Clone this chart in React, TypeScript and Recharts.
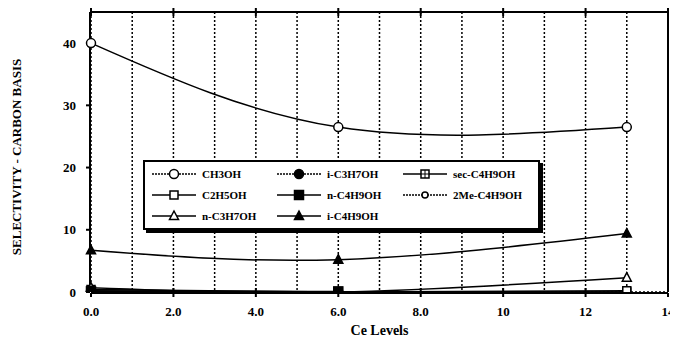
import React from 'react'
import { LineChart, Line, XAxis, YAxis, Legend, CartesianGrid } from 'recharts'

// Ce levels on the x axis
const ceLevels = [0, 6, 13]

// selectivity (carbon basis) for each alcohol
const ch3oh = [40, 26.5, 26.5]
const c2h5oh = [0.4, 0, 0.2]
const nC3h7oh = [0.7, 0, 2.3]
const iC3h7oh = [0.2, 0, null]
const nC4h9oh = [0.1, 0.1, null]
const iC4h9oh = [6.7, 5.2, 9.4]
const secC4h9oh = [0, 0, 0]
const me2C4h9oh = [0, 0, 0]

const xTicks = [0, 2, 4, 6, 8, 10, 12, 14]
const xTickLabels = ['0.0', '2.0', '4.0', '6.0', '8.0', '10', '12', '14']
const yTicks = [0, 10, 20, 30, 40]
const xGrid = [1, 2, 3, 4, 5, 6, 7, 8, 9, 10, 11, 12, 13]
const yGrid = [5, 10, 15, 20, 25, 30, 35, 40]
const yMinor = Array.from({ length: 46 }, (_, i) => i)
const yMid = [0, 5, 10, 15, 20, 25, 30, 35, 40, 45]

const data = ceLevels.map((x, i) => ({
  x,
  ch3oh: ch3oh[i],
  c2h5oh: c2h5oh[i],
  nC3h7oh: nC3h7oh[i],
  iC3h7oh: iC3h7oh[i],
  nC4h9oh: nC4h9oh[i],
  iC4h9oh: iC4h9oh[i],
  secC4h9oh: secC4h9oh[i],
  me2C4h9oh: me2C4h9oh[i],
}))

type Shape = 'oCircle' | 'fCircle' | 'oSquare' | 'fSquare' | 'oTri' | 'fTri' | 'plusSq' | 'smCircle'

const series: { key: string; name: string; shape: Shape; dash?: string }[] = [
  { key: 'ch3oh', name: 'CH3OH', shape: 'oCircle', dash: '2 1' },
  { key: 'iC3h7oh', name: 'i-C3H7OH', shape: 'fCircle', dash: '2 1' },
  { key: 'secC4h9oh', name: 'sec-C4H9OH', shape: 'plusSq' },
  { key: 'c2h5oh', name: 'C2H5OH', shape: 'oSquare' },
  { key: 'nC4h9oh', name: 'n-C4H9OH', shape: 'fSquare' },
  { key: 'me2C4h9oh', name: '2Me-C4H9OH', shape: 'smCircle', dash: '2 1' },
  { key: 'nC3h7oh', name: 'n-C3H7OH', shape: 'oTri' },
  { key: 'iC4h9oh', name: 'i-C4H9OH', shape: 'fTri' },
]

// drawing order so the visible markers end up on top
const drawOrder = ['secC4h9oh', 'me2C4h9oh', 'c2h5oh', 'nC3h7oh', 'iC3h7oh', 'nC4h9oh', 'iC4h9oh', 'ch3oh']

const FONT = "'Liberation Serif', 'Times New Roman', serif"

const marker = (shape: Shape, cx: number, cy: number) => {
  const s = { stroke: '#000', strokeWidth: 1.5 }
  switch (shape) {
    case 'oCircle':
      return <circle cx={cx} cy={cy} r={4.5} fill="#fff" {...s} />
    case 'fCircle':
      return <circle cx={cx} cy={cy} r={4.5} fill="#000" {...s} />
    case 'smCircle':
      return <circle cx={cx} cy={cy} r={3} fill="#fff" {...s} />
    case 'oSquare':
      return <rect x={cx - 4} y={cy - 4} width={8} height={8} fill="#fff" {...s} />
    case 'fSquare':
      return <rect x={cx - 4.5} y={cy - 4.5} width={9} height={9} fill="#000" {...s} />
    case 'plusSq':
      return (
        <g>
          <rect x={cx - 4} y={cy - 4} width={8} height={8} fill="#fff" {...s} />
          <line x1={cx - 4} x2={cx + 4} y1={cy} y2={cy} stroke="#000" strokeWidth={1} />
          <line x1={cx} x2={cx} y1={cy - 4} y2={cy + 4} stroke="#000" strokeWidth={1} />
        </g>
      )
    case 'oTri':
      return <polygon points={`${cx},${cy - 5} ${cx + 4.5},${cy + 3.5} ${cx - 4.5},${cy + 3.5}`} fill="#fff" {...s} />
    case 'fTri':
      return <polygon points={`${cx},${cy - 5} ${cx + 4.5},${cy + 3.5} ${cx - 4.5},${cy + 3.5}`} fill="#000" {...s} />
  }
  return null
}

const renderDot = (shape: Shape) => (props: any) => {
  const { cx, cy, index, value } = props
  const key = `${shape}-${index}`
  if (cx == null || cy == null || value == null) return <g key={key} />
  return <g key={key}>{marker(shape, cx, cy)}</g>
}

// tick mark without a label
const noLabel = () => <g />

const cols = [7, 132, 258]
const rows = [12, 33, 54]

const LegendBox = () => (
  <div
    style={{
      position: 'relative',
      width: 397,
      height: 70,
      boxSizing: 'border-box',
      border: '2px solid #000',
      boxShadow: '3px 3px 0 #000',
      background: '#fff',
      fontFamily: FONT,
      fontWeight: 'bold',
      fontSize: 11,
    }}
  >
    {series.map((s, i) => {
      const left = cols[i % 3]
      const top = rows[Math.floor(i / 3)]
      return (
        <div key={s.key} style={{ position: 'absolute', left, top: top - 7, height: 14, display: 'flex', alignItems: 'center' }}>
          <svg width={44} height={14}>
            <line x1={0} x2={44} y1={7} y2={7} stroke="#000" strokeWidth={1.5} strokeDasharray={s.dash} />
            {marker(s.shape, 22, 7)}
          </svg>
          <span style={{ marginLeft: 6, whiteSpace: 'nowrap' }}>{s.name}</span>
        </div>
      )
    })}
  </div>
)

const tickStyle = { fill: '#000', fontFamily: FONT, fontWeight: 'bold', fontSize: 13 }

export default function App() {
  return (
    <div style={{ background: '#fff' }}>
      <LineChart width={670} height={331} data={data} margin={{ top: 0, right: 10, bottom: 0, left: 0 }}>
        {/* hidden axes that only carry the dotted grid positions */}
        <XAxis xAxisId="grid" hide height={1} dataKey="x" type="number" domain={[0, 14]} ticks={xGrid} />
        <YAxis yAxisId="grid" hide width={1} type="number" domain={[0, 45]} ticks={yGrid} />
        <CartesianGrid xAxisId="grid" yAxisId="grid" stroke="#000" strokeWidth={1.5} strokeDasharray="2 2" />
        <XAxis xAxisId="top" orientation="top" dataKey="x" type="number" domain={[0, 14]} ticks={xTicks} interval={0} height={4} tickSize={4} tick={noLabel} stroke="#000" strokeWidth={2} />
        <XAxis xAxisId="topIn" orientation="top" mirror dataKey="x" type="number" domain={[0, 14]} ticks={xTicks} interval={0} tickSize={4} tick={noLabel} axisLine={false} stroke="#000" strokeWidth={2} />
        <XAxis
          xAxisId="main"
          dataKey="x"
          type="number"
          domain={[0, 14]}
          ticks={xTicks}
          interval={0}
          tickFormatter={(v: number) => xTickLabels[xTicks.indexOf(v)]}
          height={47}
          tickSize={4}
          tickMargin={10}
          stroke="#000"
          strokeWidth={2}
          tick={tickStyle}
          label={{ value: 'Ce Levels', position: 'insideBottom', offset: 5, style: { fill: '#000', fontFamily: FONT, fontWeight: 'bold', fontSize: 14 } }}
        />
        <XAxis xAxisId="botIn" mirror dataKey="x" type="number" domain={[0, 14]} ticks={xTicks} interval={0} tickSize={4} tick={noLabel} axisLine={false} stroke="#000" strokeWidth={2} />
        <YAxis
          yAxisId="main"
          type="number"
          domain={[0, 45]}
          allowDataOverflow
          ticks={yTicks}
          interval={0}
          width={83}
          tickSize={4}
          tickMargin={10}
          stroke="#000"
          strokeWidth={2}
          tick={tickStyle}
          label={{
            content: () => (
              <text x={8} y={149} transform="rotate(-90 8 149)" textAnchor="middle" dominantBaseline="central" fill="#000" fontFamily={FONT} fontWeight="bold" fontSize={13}>
                SELECTIVITY - CARBON BASIS
              </text>
            ),
          }}
        />
        <YAxis yAxisId="leftIn" mirror type="number" domain={[0, 45]} ticks={yMinor} interval={0} tickSize={4} tick={noLabel} axisLine={false} stroke="#000" strokeWidth={1} />
        <YAxis yAxisId="rightIn" orientation="right" mirror type="number" domain={[0, 45]} ticks={yMinor} interval={0} tickSize={4} tick={noLabel} stroke="#000" strokeWidth={2} />
        <YAxis yAxisId="rightMid" orientation="right" mirror type="number" domain={[0, 45]} ticks={yMid} interval={0} tickSize={7} tick={noLabel} axisLine={false} stroke="#000" strokeWidth={2} />
        {drawOrder.map(k => {
          const s = series.find(d => d.key === k)!
          return (
            <Line
              key={k}
              xAxisId="main"
              yAxisId="main"
              type="natural"
              dataKey={k}
              name={s.name}
              stroke="#000"
              strokeWidth={1.5}
              dot={renderDot(s.shape)}
              activeDot={false}
              legendType="none"
              isAnimationActive={false}
            />
          )
        })}
        <Legend
          layout="vertical"
          align="center"
          verticalAlign="middle"
          wrapperStyle={{ left: 135, top: 152, width: 400, height: 73 }}
          content={() => <LegendBox />}
        />
      </LineChart>
    </div>
  )
}
